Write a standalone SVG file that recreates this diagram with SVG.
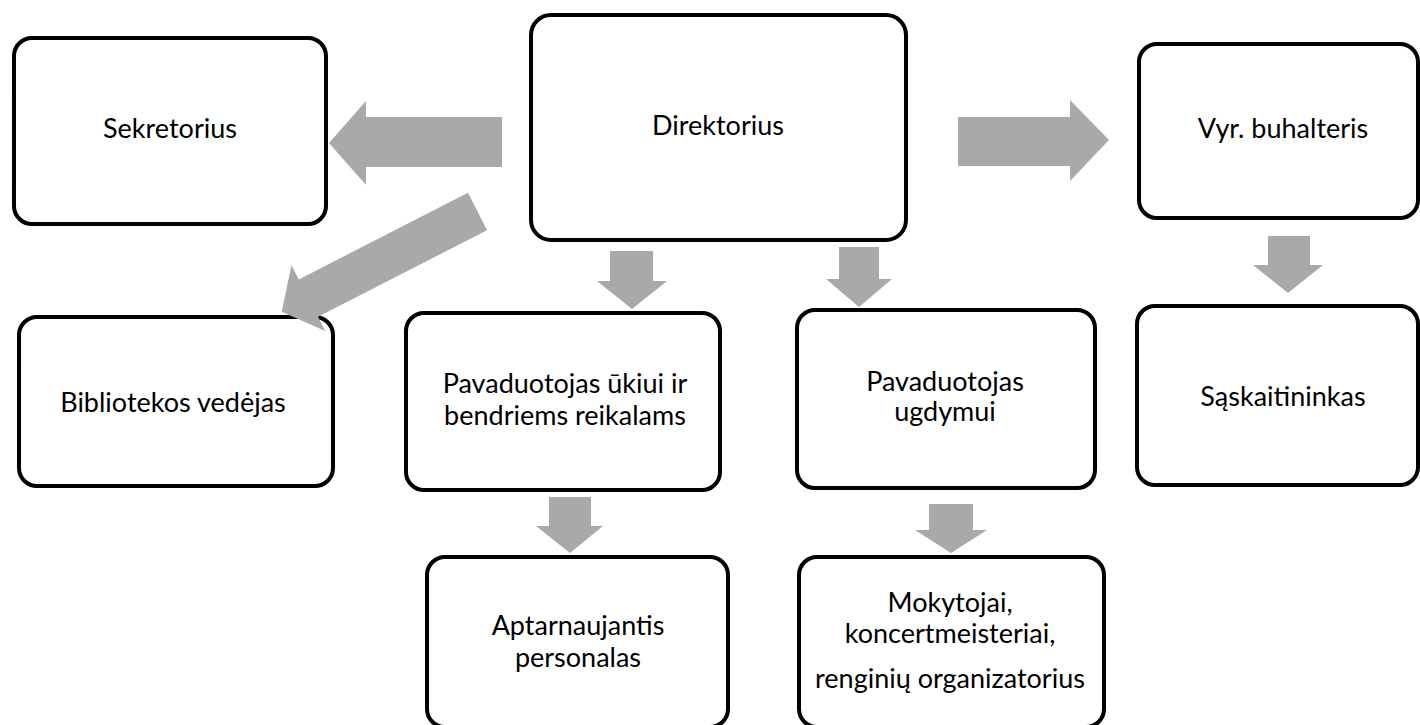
<svg xmlns="http://www.w3.org/2000/svg" width="1420" height="725" viewBox="0 0 1420 725">
<style>
.box{fill:#fff;stroke:#000;stroke-width:4}
.t{font-family:Lato,"Open Sans",sans-serif;font-size:27px;fill:#000;text-anchor:middle}
.arr{fill:#a9a9a9;stroke:none}
</style>
<rect width="1420" height="725" fill="#fff"/>
<g id="sekretorius"><rect class="box" x="14" y="38" width="312" height="186" rx="18"/><text class="t" x="170" y="138">Sekretorius</text></g>
<g id="direktorius"><rect class="box" x="531" y="15" width="375" height="225" rx="20"/><text class="t" x="718" y="135">Direktorius</text></g>
<g id="buhalteris"><rect class="box" x="1139" y="44" width="279" height="174" rx="18"/><text class="t" x="1283" y="138">Vyr. buhalteris</text></g>
<g id="saskaitininkas"><rect class="box" x="1137" y="306" width="281" height="179" rx="18"/><text class="t" x="1283" y="406">Sąskaitininkas</text></g>
<g id="biblioteka"><rect class="box" x="19" y="317" width="314" height="169" rx="18"/><text class="t" x="173" y="412">Bibliotekos vedėjas</text></g>
<g id="pav-ukiui"><rect class="box" x="406" y="313" width="314" height="177" rx="18"/><text class="t" x="565" y="393">Pavaduotojas ūkiui ir</text><text class="t" x="565" y="425">bendriems reikalams</text></g>
<g id="pav-ugdymui"><rect class="box" x="797" y="310" width="298" height="178" rx="18"/><text class="t" x="945" y="391">Pavaduotojas</text><text class="t" x="945" y="421">ugdymui</text></g>
<g id="aptarnaujantis"><rect class="box" x="427" y="557" width="301" height="170" rx="18"/><text class="t" x="578" y="635">Aptarnaujantis</text><text class="t" x="578" y="667">personalas</text></g>
<g id="mokytojai"><rect class="box" x="799" y="557" width="305" height="170" rx="18"/><text class="t" x="950" y="612">Mokytojai,</text><text class="t" x="950" y="643">koncertmeisteriai,</text><text class="t" x="950" y="688">renginių organizatorius</text></g>
<g id="connectors">
<polygon class="arr" points="502,117 366,117 366,101 329,143 366,185 366,167 502,167"/>
<polygon class="arr" points="958,117 1070,117 1070,100 1109,140 1070,181 1070,166 958,166"/>
<polygon class="arr" points="467.9,192.8 298.8,279.4 291.5,265.2 281.7,311.8 325.3,331 318,316.8 487.1,230.2"/>
<polygon class="arr" points="610,251 653,251 653,281 667,281 632,309 597,281 610,281"/>
<polygon class="arr" points="839,247 879,247 879,279 892,279 859,307 826,279 839,279"/>
<polygon class="arr" points="1268,236 1310,236 1310,265 1323,265 1288,293 1253,265 1268,265"/>
<polygon class="arr" points="549,497 591,497 591,526 603,526 570,553 536,526 549,526"/>
<polygon class="arr" points="929,504 973,504 973,530 987,530 951,553 915,530 929,530"/>
</g>
</svg>
